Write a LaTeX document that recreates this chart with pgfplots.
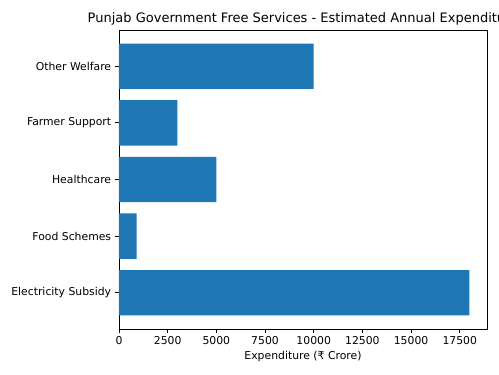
\documentclass[border=0pt]{standalone}
\usepackage{pgfplots}
\pgfplotsset{compat=1.18}
\usepackage{fontspec}
\setmainfont{DejaVu Sans}
\definecolor{mplblue}{HTML}{1F77B4}
\begin{document}
\begin{tikzpicture}
\begin{axis}[
  width=264.96pt, height=215.28pt, scale only axis,
  xbar, bar width=0.8,
  xmin=0, xmax=18900,
  ymin=-0.64, ymax=4.64,
  xtick={0,2500,5000,7500,10000,12500,15000,17500},
  scaled x ticks=false,
  ytick={0,1,2,3,4},
  yticklabels={Electricity Subsidy,Food Schemes,Healthcare,Farmer Support,Other Welfare},
  tick pos=left, tick align=outside,
  major tick length=2.73pt,
  every tick/.style={black, line width=0.62pt},
  axis line style={line width=0.62pt},
  /pgf/number format/1000 sep={},
  /pgf/number format/assume math mode=true,
  tick label style={font=\fontsize{7.8}{9}\selectfont},
  xticklabel style={inner sep=0pt, yshift=-2.73pt},
  yticklabel style={inner sep=0pt, xshift=-2.73pt},
  xlabel={Expenditure (₹ Crore)},
  xlabel style={font=\fontsize{7.8}{9}\selectfont, inner sep=0pt, at={(axis description cs:0.5,0)}, anchor=base, yshift=-22.3pt},
  title={Punjab Government Free Services - Estimated Annual Expenditure},
  title style={font=\fontsize{9.36}{11}\selectfont, inner sep=0pt, at={(axis description cs:0.5,1)}, anchor=base, yshift=-0.24pt},
]
\addplot[fill=mplblue, draw=none] coordinates {(18000,0) (900,1) (5000,2) (3000,3) (10000,4)};
\end{axis}
\pgfresetboundingbox
\path[use as bounding box] ([shift={(-85.68pt,-32.4pt)}]current axis.south west) rectangle ([shift={(8.64pt,21.6pt)}]current axis.north east);
\end{tikzpicture}
\end{document}
